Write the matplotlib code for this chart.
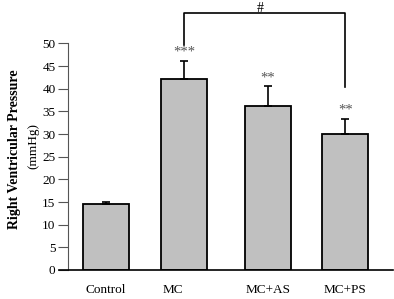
import matplotlib
matplotlib.use("Agg")
import matplotlib.pyplot as plt
import matplotlib.transforms as mtransforms

plt.rcParams['font.family'] = ['Liberation Serif', 'DejaVu Serif']

categories = ["Control", "MC", "MC+AS", "MC+PS"]
values = [14.5, 42.2, 36.1, 30.1]
errors = [0.5, 3.9, 4.4, 3.2]
stars = ["", "***", "**", "**"]
positions = [0, 1, 2.08, 3.07]

fig = plt.figure(figsize=(3.94, 2.99), dpi=100)
ax = fig.add_axes([0.1726, 0.097, 0.8244, 0.758])

ax.bar(positions, values, width=0.59, color="#c0c0c0", edgecolor="black", linewidth=1.3, zorder=2)
ax.errorbar(positions, values, yerr=[[0]*4, errors], fmt="none", ecolor="black",
            elinewidth=1.2, capsize=3, capthick=1.2, zorder=3)

for p, v, e, s in zip(positions, values, errors, stars):
    if s:
        ax.text(p, v + e + 0.5, s, ha="center", va="bottom", fontsize=10.5, color="#555555")

# significance bracket
top = 56.6
ax.plot([positions[1], positions[1], positions[3], positions[3]],
        [49.6, top, top, 40.3], color="black", linewidth=1.2, clip_on=False)
ax.text((positions[1] + positions[3]) / 2 - 0.05, top + 0.35, "#", ha="center", va="baseline",
        fontsize=10)

ax.set_xlim(-0.487, 3.68)
ax.set_ylim(0, 50)
ax.set_yticks(range(0, 51, 5))
ax.tick_params(axis="y", direction="out", length=7, width=0.8, color="#555555", labelsize=9.5, pad=2)
ax.tick_params(axis="x", length=0, labelsize=9.5, pad=10)
ax.set_xticks(positions)
ax.set_xticklabels(categories)
lab = ax.get_xticklabels()[1]
lab.set_transform(lab.get_transform() + mtransforms.ScaledTranslation(-0.11, 0, fig.dpi_scale_trans))

for s in ["top", "right"]:
    ax.spines[s].set_visible(False)
ax.spines["left"].set_color("#555555")
ax.spines["left"].set_linewidth(0.8)
ax.spines["bottom"].set_linewidth(1.2)
ax.spines["bottom"].set_bounds(-0.6, 3.68)

fig.text(0.038, 0.502, "Right Ventricular Pressure", rotation=90, ha="center", va="center",
         fontsize=10, fontweight="bold")
fig.text(0.084, 0.512, "(mmHg)", rotation=90, ha="center", va="center", fontsize=9.5)

fig.savefig("out.png", dpi=100)
